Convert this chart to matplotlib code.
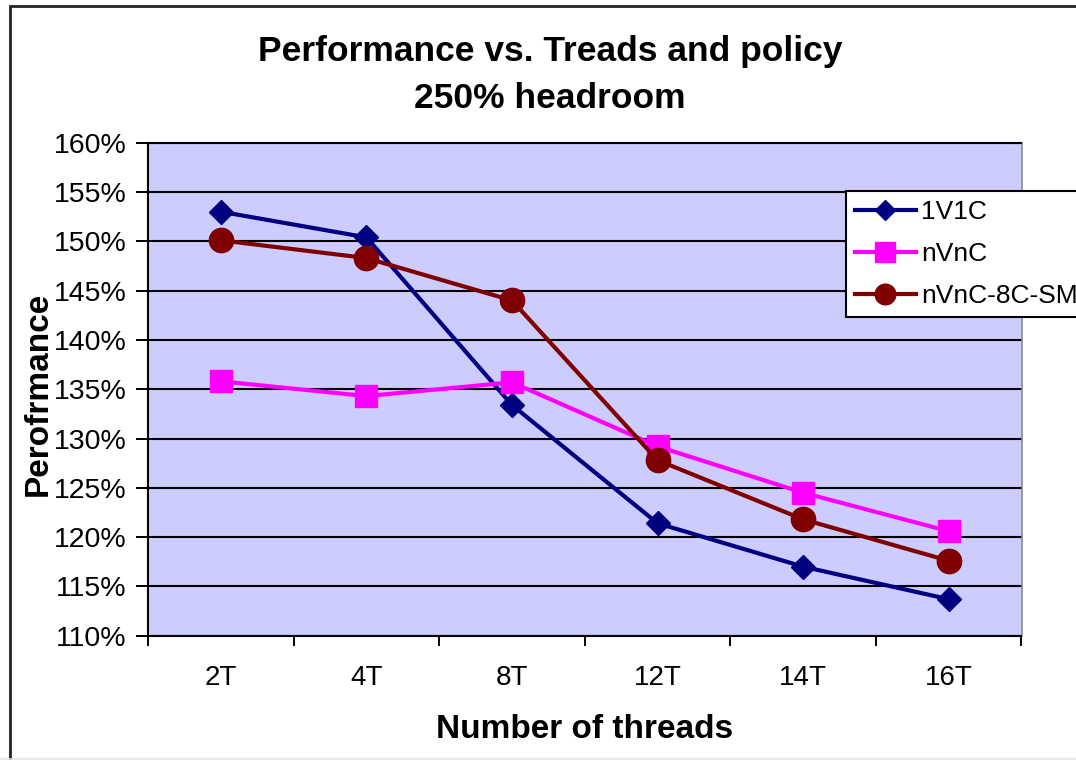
import matplotlib
matplotlib.use("Agg")
import matplotlib.pyplot as plt
from matplotlib.patches import Rectangle
from matplotlib.lines import Line2D
from matplotlib.ticker import PercentFormatter, FixedLocator, NullFormatter

plt.rcParams["font.family"] = ["Liberation Sans", "DejaVu Sans"]

# ---- data ----
threads = ["2T", "4T", "8T", "12T", "14T", "16T"]
perf_1v1c = [153.0, 150.4, 133.4, 121.4, 117.0, 113.7]
perf_nvnc = [135.8, 134.3, 135.7, 129.2, 124.5, 120.6]
perf_nvnc_8c_sm = [150.1, 148.3, 144.0, 127.8, 121.8, 117.6]
y_ticks = [110, 115, 120, 125, 130, 135, 140, 145, 150, 155, 160]

W, H = 1076, 760
fig = plt.figure(figsize=(W / 100, H / 100), dpi=100)
fig.patch.set_facecolor("white")

# outer chart frame
fig.add_artist(Rectangle((9.5 / W, -0.1), 1.2, (H - 6) / H + 0.1,
                         transform=fig.transFigure, fill=False,
                         edgecolor="#222222", linewidth=2.0))
fig.add_artist(Line2D([0, 1], [1.0 / H, 1.0 / H], transform=fig.transFigure,
                      color="#e4e4e4", linewidth=1.2))

left, right = 148 / W, 1021.5 / W
bottom, top = 1 - 635.7 / H, 1 - 142.7 / H
ax = fig.add_axes([left, bottom, right - left, top - bottom])
ax.set_facecolor("#CCCCFF")

x = list(range(len(threads)))
ax.plot(x, perf_1v1c, color="#000080", linewidth=3.0, marker="D",
        markersize=12, label="1V1C")
ax.plot(x, perf_nvnc, color="#FF00FF", linewidth=3.0, marker="s",
        markersize=16.5, label="nVnC")
ax.plot(x, perf_nvnc_8c_sm, color="#800000", linewidth=3.0, marker="o",
        markersize=17.5, label="nVnC-8C-SM")

ax.set_xlim(-0.5, len(threads) - 0.5)
ax.set_ylim(110, 160)
ax.yaxis.set_major_locator(FixedLocator(y_ticks))
ax.yaxis.set_major_formatter(PercentFormatter(decimals=0))
ax.grid(axis="y", color="black", linewidth=1.5)
ax.set_axisbelow(True)

# category boundaries get tick marks, category centres get labels
ax.set_xticks([i - 0.5 for i in range(len(threads) + 1)])
ax.xaxis.set_major_formatter(NullFormatter())
ax.set_xticks(x, minor=True)
ax.set_xticklabels(threads, minor=True)
ax.tick_params(axis="x", which="major", direction="out", length=7,
               width=1.4, color="black")
ax.tick_params(axis="x", which="minor", length=0, pad=21, labelsize=20)
ax.tick_params(axis="y", direction="out", length=8.3, width=1.4,
               pad=7, labelsize=20.5, color="black")

for side in ("left", "bottom", "top"):
    ax.spines[side].set_color("black")
    ax.spines[side].set_linewidth(1.5)
ax.spines["right"].set_color("#8a8a8a")
ax.spines["right"].set_linewidth(1.2)

ax.set_xlabel("Number of threads", fontsize=24, fontweight="bold")
ax.xaxis.set_label_coords(0.5, -0.191)
ax.xaxis.label.set_va("center")
ax.set_ylabel("Perofrmance", fontsize=24, fontweight="bold")
ax.yaxis.set_label_coords(-0.126, 0.49)
ax.yaxis.label.set_va("center")

fig.text(550 / W, 1 - 51 / H, "Performance vs. Treads and policy",
         ha="center", va="center", fontsize=25.5, fontweight="bold")
fig.text(550 / W, 1 - 98 / H, "250% headroom",
         ha="center", va="center", fontsize=25.5, fontweight="bold")

leg = ax.legend(loc="upper left", bbox_to_anchor=(845.7 / W, 1 - 191 / H),
                bbox_transform=fig.transFigure, borderaxespad=0,
                fontsize=19, frameon=True, fancybox=False, framealpha=1,
                edgecolor="black", handlelength=2.3, handletextpad=0.2,
                labelspacing=0.68, borderpad=0.35, markerscale=0.85)
leg.get_frame().set_linewidth(1.5)
leg.set_clip_on(False)

fig.savefig("out.png", dpi=100, facecolor="white")
